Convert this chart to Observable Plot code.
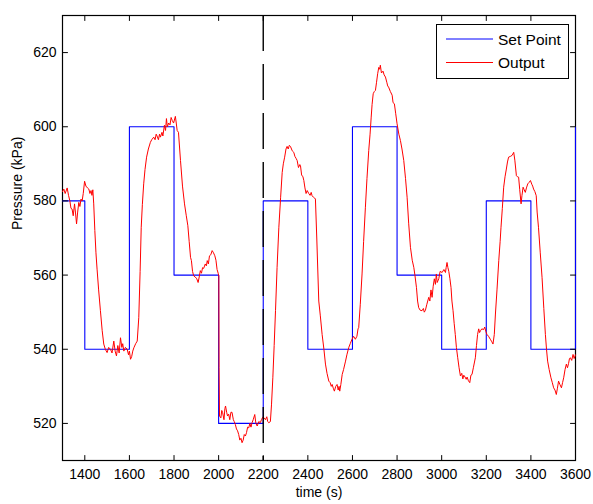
<!DOCTYPE html>
<html><head><meta charset="utf-8">
<script src="https://cdn.jsdelivr.net/npm/d3@7"></script>
<script src="https://cdn.jsdelivr.net/npm/@observablehq/plot@0.6"></script>
<style>
body{margin:0;background:#fff;}
#wrap{position:relative;width:593px;height:504px;font-family:"Liberation Sans",Arial,Helvetica,sans-serif;}
#legend{position:absolute;left:436px;top:24px;width:133px;height:55px;border:1.3px solid #000;background:#fff;box-sizing:border-box;}
#legend svg{display:block;}
</style></head><body><div id="wrap"></div>
<script>
// Set point (step changes)
const spTime  = [1300,1400,1600,1800,2000,2200,2400,2600,2800,3000,3200,3400,3600];
const spValue = [580, 540, 600, 560, 520, 580, 540, 600, 560, 540, 580, 540, 600];

// Measured output
const outTime = [1300,1306,1312,1321,1327,1333,1338,1343,1348,1354,1358,1363,1368,1373,1378,1383,1388,1393,1399,1405,1412,1418,1423,1428,1432,1436,1440,1445,1450,1455,1462,1470,1478,1485,1492,1500,1507,1515,1522,1530,1536,1542,1548,1554,1560,1566,1570,1575,1582,1590,1596,1600,1605,1610,1615,1620,1628,1635,1642,1648,1653,1658,1664,1670,1677,1685,1694,1700,1709,1715,1720,1724,1730,1735,1739,1746,1750,1757,1762,1766,1770,1776,1782,1787,1792,1798,1806,1810,1814,1820,1829,1838,1847,1855,1862,1868,1874,1878,1883,1888,1895,1902,1908,1913,1918,1923,1928,1933,1940,1945,1949,1954,1959,1965,1971,1977,1983,1988,1993,1998,2001,2002,2004,2010,2014,2018,2024,2028,2031,2036,2040,2045,2050,2055,2060,2066,2070,2075,2080,2085,2090,2095,2100,2105,2110,2115,2120,2125,2130,2135,2140,2145,2150,2155,2162,2167,2173,2180,2187,2192,2198,2204,2210,2216,2220,2225,2232,2237,2243,2249,2255,2262,2270,2278,2285,2290,2296,2302,2307,2312,2317,2322,2330,2337,2342,2347,2352,2358,2364,2367,2372,2378,2382,2387,2392,2397,2404,2410,2415,2419,2425,2430,2434,2440,2449,2456,2464,2472,2479,2486,2494,2500,2505,2509,2514,2519,2525,2531,2536,2540,2543,2548,2554,2560,2569,2575,2583,2590,2598,2605,2613,2620,2625,2628,2635,2643,2650,2658,2665,2673,2679,2684,2688,2693,2698,2703,2708,2713,2718,2722,2725,2730,2737,2742,2748,2754,2758,2762,2770,2778,2782,2788,2794,2800,2808,2815,2822,2830,2838,2845,2852,2860,2868,2875,2880,2887,2892,2897,2904,2912,2918,2922,2927,2933,2942,2947,2952,2957,2962,2967,2972,2976,2980,2987,2993,3002,3010,3017,3020,3024,3028,3032,3037,3042,3046,3051,3056,3061,3066,3072,3078,3084,3090,3095,3099,3105,3110,3114,3120,3126,3131,3136,3142,3151,3156,3161,3166,3170,3174,3180,3188,3193,3198,3203,3210,3218,3225,3230,3236,3241,3248,3256,3262,3266,3272,3278,3284,3290,3295,3300,3308,3316,3323,3328,3335,3340,3345,3350,3356,3360,3365,3370,3375,3380,3386,3392,3398,3404,3408,3412,3418,3424,3428,3434,3442,3450,3458,3465,3470,3475,3482,3490,3496,3502,3508,3514,3519,3524,3530,3537,3542,3547,3553,3559,3564,3569,3573,3577,3583,3589,3594,3600];
const outValue = [582.5,583.2,582,583.5,581.5,580,578,577.8,576,579.2,577,573.8,577,579.6,578.5,580.5,580,582,585.3,584,583.5,583.2,582,582.8,581.5,583,579.2,572,566,561.6,556,550.4,545,541.4,540,539.1,540.5,540,539,542.2,539.5,538.2,541,539,543.1,540.5,541.5,539.5,540.5,540,538.5,539.5,537.3,538,539.5,540.4,541.5,542.2,548.5,561,572.9,579,584.6,588.5,591.8,594,595.8,596.5,597.2,596.5,598,597.5,596.5,598,597.2,598.5,597.5,600.4,599,602.2,600,601,600.5,602.5,601.7,601,602.8,601,599,598.5,590.9,584,579.2,576,573.3,569,564.8,563.9,561,559.8,559.5,559,558,559.5,561.2,560.5,562,561.8,563,562.5,563.9,563,565.2,565.5,566.6,566,565.2,564,561.5,560.5,559.8,535,522,521.5,523.5,522.9,521,524,524.7,523,522,522.5,521,523,523,521,520.5,519.7,518.5,518,517,515.5,516,514.8,515.5,517,516.6,517.5,519,518.8,520,519,520.2,521,522.4,520,519.3,520.5,520.2,521,521.7,521.5,521,521.8,520.5,520.2,520.5,525,532.3,541,550.4,562,572.9,581,587.7,590,591.8,594,594.7,594,595,594.7,593.5,593.1,592,591.5,590.9,589,589.8,589.5,587,586.5,585.5,583.5,582,582.8,582,581.5,582.3,581.4,581,580.8,580.5,570,553,549,544,540,536,533.5,531.4,531,530,530.5,529.5,528.7,530,530.5,529,530,528.7,530.5,533.2,534.5,536.8,538.5,540.4,541.5,542.7,543.5,542.7,543.5,545.5,545.8,552,560.3,569,578.3,586,593.6,598,602.6,606,608.9,609.5,609.8,612,614.3,616,615.5,616.6,614.5,615,614,613.4,612,611,610.7,609.5,608.5,606.5,606.2,603.5,600.8,598,596.3,594,590.9,586,581,574,567.5,564,562.1,560,556.6,553,551.2,550.5,550.4,551,550,550.5,552,554,553,556,554,557,559,557.5,560.3,558,559,561,560.7,561.5,560.7,562,563.4,562,561,559,556.6,553,550.4,547,544,540.5,537.7,535,532.8,533.5,532,533,532.5,531.9,532.5,531.5,531,533,533.2,535,537.7,541,544,545.5,544.5,545,545.5,545.3,546,544.8,544,543.5,542.7,542,541.4,544,549.5,556,563.9,569,572.9,578,583.7,586.5,588.6,590.5,591.8,592,592.3,593.1,591,586.8,586.5,586.4,583,579.2,581.5,583.7,583,582.3,583.5,584.6,585,585.5,584.5,584,583.2,582.5,581.4,577,572.9,566,559.4,551,544,540,536.8,534.5,532.3,531,529.6,529,527.8,529.5,531.4,530.5,529.6,531,532.3,534.5,536,535,536.2,537.5,537.7,537,538.6,537.5,538.5];

// Axis ticks
const xTicks = [1400,1600,1800,2000,2200,2400,2600,2800,3000,3200,3400,3600];
const yTicks = [520,540,560,580,600,620];
const switchTime = [2200];

const legendLabels = ["Set Point", "Output"];
const legendColors = ["#0000ff", "#ff0000"];

const setpoint = spTime.map((t, i) => ({t, v: spValue[i]}));
const output = outTime.map((t, i) => ({t, v: outValue[i]}));

const tickShape = {draw(context, l) { context.moveTo(0, 0); context.lineTo(0, -l); }};
const tickOpts = {length: 5, anchor: "start", shape: tickShape, stroke: "black", strokeWidth: 1};

const chart = Plot.plot({
  width: 593, height: 504,
  marginLeft: 62, marginRight: 18, marginTop: 15, marginBottom: 44,
  style: {fontFamily: '"Liberation Sans", Arial, Helvetica, sans-serif', fontSize: "14px", color: "black", background: "white"},
  x: {domain: [1300, 3600]},
  y: {domain: [510, 630]},
  marks: [
    Plot.frame({stroke: "black", strokeWidth: 1.2}),
    Plot.line(setpoint, {x: "t", y: "v", curve: "step-after", stroke: legendColors[0], strokeWidth: 1.1}),
    Plot.line(output, {x: "t", y: "v", stroke: legendColors[1], strokeWidth: 1}),
    Plot.ruleX(switchTime, {stroke: "black", strokeWidth: 1.4, strokeDasharray: "36,13"}),
    Plot.axisX(xTicks, {tickSize: 0, tickPadding: 9, tickFormat: d => String(d), label: null, fontSize: 14}),
    Plot.axisY(yTicks, {tickSize: 0, tickPadding: 6, tickFormat: d => String(d), label: null, fontSize: 14}),
    Plot.vector(xTicks, {x: d => d, frameAnchor: "bottom", rotate: 0, ...tickOpts}),
    Plot.vector(xTicks, {x: d => d, frameAnchor: "top", rotate: 180, ...tickOpts}),
    Plot.vector(yTicks, {y: d => d, frameAnchor: "left", rotate: 90, ...tickOpts}),
    Plot.vector(yTicks, {y: d => d, frameAnchor: "right", rotate: -90, ...tickOpts}),
    Plot.text(["time (s)"], {text: d => d, frameAnchor: "bottom", dy: 36, fontSize: 14}),
    Plot.text(["Pressure (kPa)"], {text: d => d, frameAnchor: "left", dx: -45, dy: -8, rotate: -90, fontSize: 14, letterSpacing: "0.3px"})
  ]
});

const wrap = document.getElementById("wrap");
wrap.appendChild(chart);

// Legend (inside the axes, top-right)
const legend = document.createElement("div");
legend.id = "legend";
const ns = "http://www.w3.org/2000/svg";
const lsvg = document.createElementNS(ns, "svg");
lsvg.setAttribute("width", 131);
lsvg.setAttribute("height", 53);
legendLabels.forEach((label, i) => {
  const y = 14 + i * 23.5;
  const line = document.createElementNS(ns, "line");
  line.setAttribute("x1", 9); line.setAttribute("x2", 56);
  line.setAttribute("y1", y); line.setAttribute("y2", y);
  line.setAttribute("stroke", legendColors[i]); line.setAttribute("stroke-width", 1);
  lsvg.appendChild(line);
  const text = document.createElementNS(ns, "text");
  text.setAttribute("x", 61); text.setAttribute("y", y);
  text.setAttribute("dy", "0.36em");
  text.setAttribute("font-size", "15.5px");
  text.setAttribute("font-family", '"Liberation Sans", Arial, sans-serif');
  text.textContent = label;
  lsvg.appendChild(text);
});
legend.appendChild(lsvg);
wrap.appendChild(legend);
</script>
</body></html>
